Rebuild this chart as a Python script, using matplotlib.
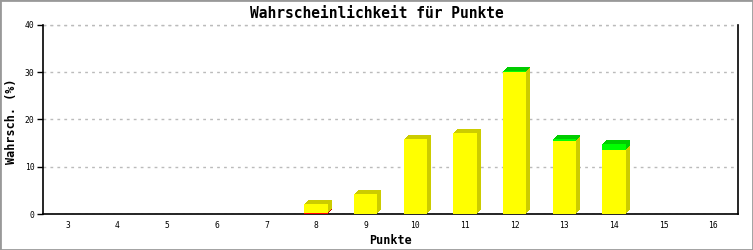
import matplotlib
matplotlib.use("Agg")
import matplotlib.pyplot as plt
import matplotlib.transforms as mtransforms
from matplotlib.patches import Rectangle
import numpy as np

# data
punkte = [3, 4, 5, 6, 7, 8, 9, 10, 11, 12, 13, 14, 15, 16]
rot = [0, 0, 0, 0, 0, 0.25, 0, 0, 0, 0, 0, 0, 0, 0]
gelb = [0, 0, 0, 0, 0, 1.9, 4.2, 15.9, 17.1, 30.0, 15.4, 13.5, 0, 0]
gruen = [0, 0, 0, 0, 0, 0, 0, 0, 0, 0.3, 0.5, 1.3, 0, 0]

serien = [
    (rot, "#ff0000", "#cc0000"),
    (gelb, "#ffff00", "#cccc00"),
    (gruen, "#00ff00", "#00cc00"),
]

W, H = 753, 250
fig = plt.figure(figsize=(W / 100, H / 100), dpi=100)
ax = fig.add_axes([43 / W, 36 / H, 695 / W, 189 / H])

x = np.arange(len(punkte))
breite = 0.47
tiefe = 4  # pixels

# extrusions (top + side) first, then the front faces
unten = np.zeros(len(punkte))
for werte, vorne, dunkel in serien:
    werte = np.array(werte)
    m = werte > 0
    for k in range(tiefe, 0, -1):
        tr = mtransforms.offset_copy(ax.transData, fig=fig, x=k, y=k, units="dots")
        ax.bar(x[m], werte[m], breite, bottom=unten[m], color=dunkel,
               linewidth=0, transform=tr, zorder=3)
    unten += werte

unten = np.zeros(len(punkte))
for werte, vorne, dunkel in serien:
    werte = np.array(werte)
    m = werte > 0
    ax.bar(x[m], werte[m], breite, bottom=unten[m], color=vorne,
           linewidth=0, zorder=4)
    unten += werte

ax.set_xlim(-0.5, len(punkte) - 0.5)
ax.set_ylim(0, 40)
ax.set_yticks([0, 10, 20, 30, 40])
ax.set_xticks(x)
ax.set_xticklabels([str(p) for p in punkte])

mono = "DejaVu Sans Mono"
for lab in ax.get_xticklabels() + ax.get_yticklabels():
    lab.set_family(mono)
    lab.set_fontsize(5.8)

ax.tick_params(axis="x", length=0, pad=5)
ax.tick_params(axis="y", length=4, width=1, pad=2)

ax.yaxis.grid(True, color="#bbbbbb", linestyle=(0, (2, 3)), linewidth=1)
ax.set_axisbelow(True)
ax.spines["top"].set_visible(False)
for s in ["left", "bottom", "right"]:
    ax.spines[s].set_linewidth(1.2)
    ax.spines[s].set_color("black")

ax.axhline(40, color="#bbbbbb", linestyle=(0, (2, 3)), linewidth=1, clip_on=False)

ax.set_xlabel("Punkte", family=mono, fontweight="bold", fontsize=8.5, labelpad=3)
fig.text(12 / W, 1 - 121 / H, "Wahrsch. (%)", family=mono, fontweight="bold",
         fontsize=8.5, rotation=90, ha="center", va="center")
fig.text(0.5, 1 - 14 / H, "Wahrscheinlichkeit für Punkte", family=mono,
         fontweight="bold", fontsize=10.5, ha="center", va="center")

# grey frame around the image
fig.patches.append(Rectangle((0, 0), 1, 1, transform=fig.transFigure,
                             fill=False, edgecolor="#999999", linewidth=2))

fig.savefig("out.png", dpi=100)
